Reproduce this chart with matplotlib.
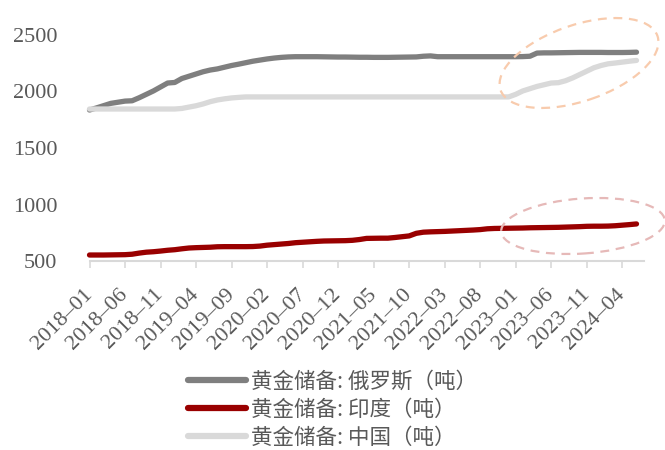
import matplotlib
matplotlib.use("Agg")
import matplotlib.pyplot as plt
from matplotlib.patches import Ellipse
from matplotlib.transforms import IdentityTransform
import pandas as pd

# ---- data (tonnes), monthly 2018-01 .. 2024-06 ----
months = [d.strftime("%Y–%m") for d in pd.date_range("2018-01-01", "2024-06-01", freq="MS")]

russia = [1836, 1855, 1875, 1895, 1905, 1915, 1918, 1945, 1975, 2005,
          2040, 2075, 2080, 2115, 2135, 2155, 2175, 2190, 2200, 2215,
          2230, 2242, 2255, 2268, 2278, 2288, 2296, 2302, 2306, 2308,
          2308, 2308, 2308, 2307, 2306, 2305, 2305, 2304, 2303, 2303,
          2302, 2302, 2302, 2303, 2304, 2305, 2306, 2312, 2315, 2308,
          2308, 2308, 2308, 2308, 2308, 2308, 2308, 2308, 2308, 2308,
          2308, 2309, 2312, 2340, 2342, 2342, 2343, 2344, 2345, 2346,
          2346, 2346, 2346, 2345, 2345, 2345, 2346, 2348]

india = [553, 553, 553, 554, 555, 556, 560, 570, 578, 582,
         588, 595, 600, 608, 615, 618, 620, 622, 626, 627,
         627, 627, 627, 628, 632, 640, 645, 650, 655, 662,
         666, 670, 674, 677, 678, 679, 680, 683, 690, 700,
         701, 702, 702, 708, 715, 722, 745, 755, 758, 760,
         762, 765, 768, 771, 774, 778, 785, 788, 789, 790,
         791, 792, 794, 795, 796, 797, 798, 800, 802, 804,
         807, 808, 808, 809, 812, 817, 822, 828]

china = [1845, 1845, 1845, 1845, 1845, 1845, 1845, 1845, 1845, 1845,
         1845, 1845, 1845, 1850, 1862, 1874, 1890, 1910, 1925, 1935,
         1943, 1948, 1952, 1952, 1952, 1952, 1952, 1952, 1952, 1952,
         1952, 1952, 1952, 1952, 1952, 1952, 1952, 1952, 1952, 1952,
         1952, 1952, 1952, 1952, 1952, 1952, 1952, 1952, 1952, 1952,
         1952, 1952, 1952, 1952, 1952, 1952, 1952, 1952, 1952, 1952,
         1975, 2005, 2025, 2045, 2060, 2075, 2078, 2095, 2120, 2150,
         2180, 2210, 2230, 2245, 2252, 2260, 2268, 2275]

labels = ["黄金储备: 俄罗斯（吨）", "黄金储备: 印度（吨）", "黄金储备: 中国（吨）"]
colors = ["#7F7F7F", "#990000", "#D9D9D9"]
yticks = [500, 1000, 1500, 2000, 2500]

# ---- figure ----
W, H = 665, 450
fig = plt.figure(figsize=(W / 100, H / 100), dpi=100)
left, right, bottom, top = 89.5, 643.6, 261, 35
ax = fig.add_axes([left / W, 1 - bottom / H, (right - left) / W, (bottom - top) / H])

x = list(range(len(months)))
series = [russia, india, china]
handles = []
for s, c, lab in zip(series, colors, labels):
    h, = ax.plot(x, s, color=c, lw=3.8, solid_capstyle="round",
                 solid_joinstyle="round", label=lab, clip_on=False)
    handles.append(h)

ax.set_xlim(0, len(months))
ax.set_ylim(500, 2500)
ax.set_yticks(yticks)
ax.set_yticklabels([str(v) for v in yticks], fontfamily="Liberation Serif",
                   fontsize=16, color="#595959")
tick_pos = x[::5]
ax.set_xticks(tick_pos)
ax.set_xticklabels([months[i] for i in tick_pos], rotation=45, ha="right",
                   va="center", rotation_mode="anchor",
                   fontfamily="Liberation Serif", fontsize=16, color="#595959")

for sp in ["top", "right", "left"]:
    ax.spines[sp].set_visible(False)
ax.spines["bottom"].set_color("#D9D9D9")
ax.spines["bottom"].set_linewidth(1.5)
ax.tick_params(axis="y", length=0, pad=23)
ax.tick_params(axis="x", length=5, width=1.2, color="#D9D9D9", direction="out", pad=17)

# dashed highlight ellipses (pixel coordinates, y from bottom)
e1 = Ellipse((579, H - 63), 166, 76, angle=19, fill=False, ls=(0, (4, 3)),
             lw=1.6, edgecolor="#F8CBAD", transform=IdentityTransform(), clip_on=False)
e2 = Ellipse((583, H - 226), 164, 55, angle=4, fill=False, ls=(0, (4, 3)),
             lw=1.6, edgecolor="#E6B9B8", transform=IdentityTransform(), clip_on=False)
fig.add_artist(e1)
fig.add_artist(e2)

leg = fig.legend(handles=handles, labels=labels, loc="center",
                 bbox_to_anchor=(0.5, 1 - 410 / H), frameon=False,
                 prop={"family": ["Noto Sans CJK SC", "DejaVu Sans"], "size": 15.5},
                 handlelength=2.7, handletextpad=0.25, labelspacing=0.28)
for t in leg.get_texts():
    t.set_color("#595959")
for l in leg.get_lines():
    l.set_linewidth(4.5)

fig.savefig("out.png", dpi=100)
